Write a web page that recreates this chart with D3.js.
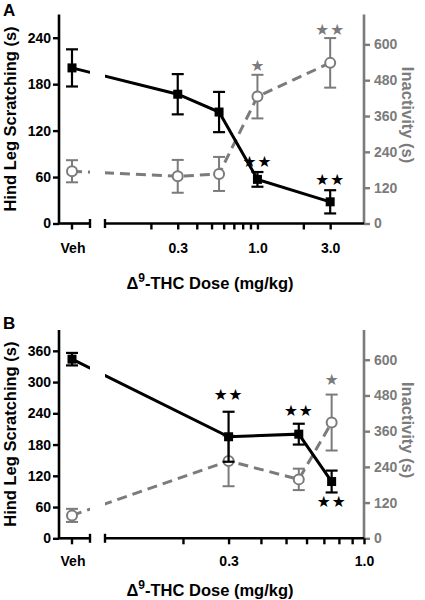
<!DOCTYPE html>
<html><head><meta charset="utf-8">
<script src="https://cdn.jsdelivr.net/npm/d3@7"></script>
<style>
html,body{margin:0;padding:0;background:#fff;}
svg text{font-family:"Liberation Sans",Arial,Helvetica,sans-serif;font-weight:bold;}
</style></head>
<body>
<svg id="c" width="425" height="600"></svg>
<script>
// ---------- DATA ----------
// Panel A
const aDoses = ["Veh", 0.3, 0.56, 1.0, 3.0];
const aScratch = [201, 167, 144, 57, 28];
const aScratchErr = [24, 26, 26, 9.5, 15];
const aInact = [175, 158, 166, 425, 538];
const aInactErr = [37, 55, 57, 73, 83];
const aTickLabels = [0.3, 1.0, 3.0];
const aMinorTicks = [0.2, 0.3, 0.4, 0.5, 0.6, 0.7, 0.8, 0.9, 1, 2, 3];
const aLeftTicks = [0, 60, 120, 180, 240];
const aRightTicks = [0, 120, 240, 360, 480, 600];
const aStars = [
  {dose: 1.0, side: "left", y: 81, n: 2},
  {dose: 3.0, side: "left", y: 57, n: 2},
  {dose: 1.0, side: "right", y: 532, n: 1},
  {dose: 3.0, side: "right", y: 650, n: 2}
];
// Panel B
const bDoses = ["Veh", 0.3, 0.56, 0.75];
const bScratch = [344, 195, 200, 109];
const bScratchErr = [12, 48, 20, 21];
const bInact = [77, 260, 198, 389];
const bInactErr = [22, 85, 36, 94];
const bTickLabels = [0.3, 1.0];
const bMinorTicks = [0.2, 0.3, 0.4, 0.5, 0.6, 0.7, 0.8, 0.9, 1.0];
const bLeftTicks = [0, 60, 120, 180, 240, 300, 360];
const bRightTicks = [0, 120, 240, 360, 480, 600];
const bStars = [
  {dose: 0.3, side: "left", y: 277, n: 2},
  {dose: 0.56, side: "left", y: 246, n: 2},
  {dose: 0.75, side: "left", y: 72, n: 2},
  {dose: 0.75, side: "right", y: 536, n: 1}
];

const GRAY = "#7b7b7b";
const svg = d3.select("#c");

function panel(cfg) {
  const g = svg.append("g");
  const xL = 59, xR = 364, vehEnd = 90, logStart = 105;
  const yS = d3.scaleLinear().domain([0, cfg.leftMax]).range([cfg.y0, cfg.yTop]);
  const yI = d3.scaleLinear().domain([0, 700]).range([cfg.y0, cfg.yTop]);
  const xLog = d3.scaleLog().domain(cfg.xDomain).range([logStart, xR]);
  const xVeh = 72;
  const xp = d => d === "Veh" ? xVeh : xLog(d);

  // clip for lines (gap at axis break)
  const cid = "clip" + cfg.id;
  const cp = g.append("clipPath").attr("id", cid);
  cp.append("rect").attr("x", 0).attr("y", 0).attr("width", vehEnd).attr("height", 600);
  cp.append("rect").attr("x", logStart).attr("y", 0).attr("width", 425).attr("height", 600);

  // Left axis
  const la = g.append("g").attr("transform", `translate(${xL},0)`)
    .call(d3.axisLeft(yS).tickValues(cfg.leftTicks).tickSize(6).tickPadding(2).tickFormat(d3.format("d")));
  la.select(".domain").attr("d", `M0,${cfg.y0}V${cfg.yTop}`).attr("stroke", "#000").attr("stroke-width", 2.6);
  la.selectAll(".tick line").attr("stroke", "#000").attr("stroke-width", 2.4);
  la.selectAll(".tick text").attr("font-size", 14).attr("fill", "#000");

  // Right axis
  const ra = g.append("g").attr("transform", `translate(${xR},0)`)
    .call(d3.axisRight(yI).tickValues(cfg.rightTicks).tickSize(6).tickPadding(4).tickFormat(d3.format("d")));
  ra.select(".domain").attr("d", `M0,${cfg.y0}V${cfg.yTop}`).attr("stroke", GRAY).attr("stroke-width", 2.6);
  ra.selectAll(".tick line").attr("stroke", GRAY).attr("stroke-width", 2.4);
  ra.selectAll(".tick text").attr("font-size", 14).attr("fill", GRAY);

  // Bottom axis: Veh segment
  const vg = g.append("g");
  vg.append("line").attr("x1", xL - 1).attr("x2", vehEnd).attr("y1", cfg.y0).attr("y2", cfg.y0).attr("stroke", "#000").attr("stroke-width", 2.6);
  vg.append("line").attr("x1", xVeh).attr("x2", xVeh).attr("y1", cfg.y0).attr("y2", cfg.y0 + 6).attr("stroke", "#000").attr("stroke-width", 2.4);
  [vehEnd, logStart].forEach(x => vg.append("line").attr("x1", x).attr("x2", x).attr("y1", cfg.y0 - 4.5).attr("y2", cfg.y0 + 4.5).attr("stroke", "#000").attr("stroke-width", 2.4));
  vg.append("text").attr("x", xVeh + 1).attr("y", cfg.y0 + cfg.tickLabelDy).attr("text-anchor", "middle").attr("font-size", 14).text("Veh");

  // Log segment
  const ba = g.append("g").attr("transform", `translate(0,${cfg.y0})`)
    .call(d3.axisBottom(xLog).tickValues(cfg.minorTicks).tickSize(6).tickPadding(0)
      .tickFormat(d => cfg.tickLabels.some(t => Math.abs(t - d) < 1e-9) ? d3.format(".1f")(d) : ""));
  ba.select(".domain").attr("d", `M${logStart},0H${xR}`).attr("stroke", "#000").attr("stroke-width", 2.6);
  ba.selectAll(".tick line").attr("stroke", "#000").attr("stroke-width", 2.4);
  ba.selectAll(".tick text").attr("font-size", 14).attr("fill", "#000").attr("dy", null).attr("y", cfg.tickLabelDy);

  // Titles
  g.append("text").attr("transform", `translate(16,${(cfg.y0 + cfg.yTop) / 2}) rotate(-90)`)
    .attr("text-anchor", "middle").attr("font-size", 16.5).text("Hind Leg Scratching (s)");
  g.append("text").attr("transform", `translate(402,${(cfg.y0 + cfg.yTop) / 2 - 4}) rotate(90)`)
    .attr("text-anchor", "middle").attr("font-size", 16.5).attr("fill", GRAY).text("Inactivity (s)");
  const xt = g.append("text").attr("x", 210).attr("y", cfg.y0 + cfg.xTitleDy).attr("text-anchor", "middle").attr("font-size", 16.5);
  xt.append("tspan").text("\u0394");
  xt.append("tspan").attr("font-size", 12).attr("dy", -7).text("9");
  xt.append("tspan").attr("dy", 7).text("-THC Dose (mg/kg)");
  g.append("text").attr("x", 3).attr("y", cfg.letterY).attr("font-size", 17).text(cfg.letter);

  // Inactivity series (gray dashed)
  const pts = cfg.doses.map((d, i) => ({d, s: cfg.scratch[i], se: cfg.scratchErr[i], a: cfg.inact[i], ae: cfg.inactErr[i]}));
  const lineI = d3.line().x(p => xp(p.d)).y(p => yI(p.a));
  const lineS = d3.line().x(p => xp(p.d)).y(p => yS(p.s));

  g.append("path").attr("d", lineI(pts)).attr("clip-path", `url(#${cid})`)
    .attr("fill", "none").attr("stroke", GRAY).attr("stroke-width", 3).attr("stroke-dasharray", "10,6");
  const eb = (sel, x, yLo, yHi, col, w) => {
    sel.append("line").attr("x1", x).attr("x2", x).attr("y1", yLo).attr("y2", yHi).attr("stroke", col).attr("stroke-width", w);
    [yLo, yHi].forEach(y => sel.append("line").attr("x1", x - 6).attr("x2", x + 6).attr("y1", y).attr("y2", y).attr("stroke", col).attr("stroke-width", w));
  };
  pts.forEach(p => eb(g, xp(p.d), yI(p.a - p.ae), yI(p.a + p.ae), GRAY, 2));
  g.selectAll(null).data(pts).join("circle").attr("cx", p => xp(p.d)).attr("cy", p => yI(p.a)).attr("r", 5)
    .attr("fill", "#fff").attr("stroke", GRAY).attr("stroke-width", 2);

  // Scratching series (black solid)
  g.append("path").attr("d", lineS(pts)).attr("clip-path", `url(#${cid})`)
    .attr("fill", "none").attr("stroke", "#000").attr("stroke-width", 3);
  pts.forEach(p => eb(g, xp(p.d), yS(p.s - p.se), yS(p.s + p.se), "#000", 2.2));
  g.selectAll(null).data(pts).join("rect").attr("x", p => xp(p.d) - 4.5).attr("y", p => yS(p.s) - 4.5)
    .attr("width", 9).attr("height", 9).attr("fill", "#000");

  // Stars
  cfg.stars.forEach(s => {
    const y = s.side === "left" ? yS(s.y) : yI(s.y);
    g.append("text").attr("x", xp(s.dose)).attr("y", y).attr("dy", "0.38em").attr("text-anchor", "middle")
      .attr("font-size", 15.5).attr("letter-spacing", s.n > 1 ? 1 : 0)
      .attr("fill", s.side === "left" ? "#000" : GRAY)
      .style("font-family", "DejaVu Sans")
      .text("\u2605".repeat(s.n));
  });
}

panel({id: "A", letter: "A", letterY: 15.5, y0: 223.5, yTop: 14.5, leftMax: 270, xDomain: [0.1, 5],
  tickLabelDy: 29, xTitleDy: 65,
  doses: aDoses, scratch: aScratch, scratchErr: aScratchErr, inact: aInact, inactErr: aInactErr,
  tickLabels: aTickLabels, minorTicks: aMinorTicks, leftTicks: aLeftTicks, rightTicks: aRightTicks, stars: aStars});
panel({id: "B", letter: "B", letterY: 328.5, y0: 538.3, yTop: 330, leftMax: 400, xDomain: [0.1, 1.0],
  tickLabelDy: 28, xTitleDy: 58,
  doses: bDoses, scratch: bScratch, scratchErr: bScratchErr, inact: bInact, inactErr: bInactErr,
  tickLabels: bTickLabels, minorTicks: bMinorTicks, leftTicks: bLeftTicks, rightTicks: bRightTicks, stars: bStars});
</script>
</body></html>
